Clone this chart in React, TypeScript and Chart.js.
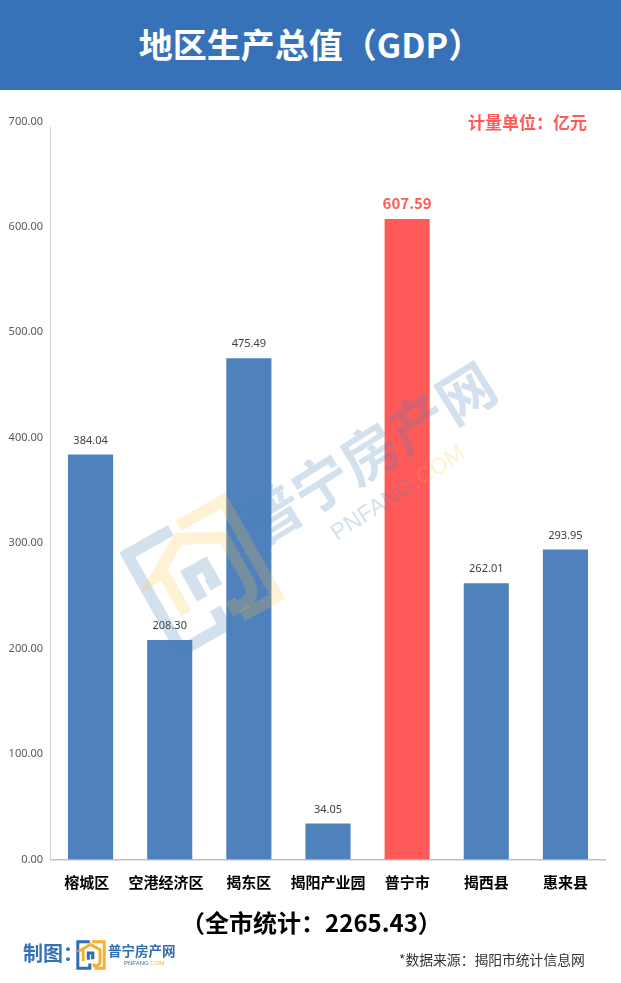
import React, { useEffect, useRef } from "react";
import { Chart, registerables } from "chart.js";

Chart.register(...registerables);

const categories = ["榕城区", "空港经济区", "揭东区", "揭阳产业园", "普宁市", "揭西县", "惠来县"];
const gdpValues = [384.04, 208.3, 475.49, 34.05, 607.59, 262.01, 293.95];
const highlightCategory = "普宁市";
const titleText = "地区生产总值（GDP）";
const unitText = "计量单位：亿元";
const totalText = "（全市统计：2265.43）";
const sourceText = "*数据来源：揭阳市统计信息网";

const BLUE = "#4f81bd";
const RED = "#ff5a5a";
const CJK = '"Noto Sans CJK SC", "Noto Sans", sans-serif';

const labelsPlugin = {
  id: "valueLabels",
  afterDraw(chart: any) {
    const { ctx } = chart;
    const yScale = chart.scales.y;
    ctx.save();
    ctx.strokeStyle = "#d0d0d0";
    ctx.lineWidth = 1;
    ctx.beginPath();
    ctx.moveTo(50.5, yScale.getPixelForValue(695));
    ctx.lineTo(50.5, yScale.getPixelForValue(0));
    ctx.stroke();
    const meta = chart.getDatasetMeta(0);
    ctx.textAlign = "center";
    ctx.textBaseline = "alphabetic";
    meta.data.forEach((bar: any, i: number) => {
      const hot = categories[i] === highlightCategory;
      ctx.fillStyle = hot ? RED : "#404040";
      ctx.font = hot ? `700 15px ${CJK}` : `11px "Noto Sans", sans-serif`;
      ctx.fillText(gdpValues[i].toFixed(2), bar.x, bar.y - (hot ? 10 : 11));
    });
    ctx.restore();
  },
};

function Logo({ stroke, blue, yellow }: { stroke: number; blue: string; yellow: string }) {
  return (
    <g fill="none" strokeWidth={stroke} strokeLinejoin="miter">
      <path d="M46 6 H6 V94 H46 V78" stroke={blue} />
      <path d="M53 6 H94 V94 H62" stroke={yellow} />
      <path d="M24 70 V33 H17 L48 15 L80 32 V72 Q80 86 66 86 H60 V78" stroke={yellow} />
      <path d="M41 66 V43 H56 V59 H50" stroke={blue} />
    </g>
  );
}

function Watermark() {
  const blue = "rgba(70,130,190,0.24)";
  const yellow = "rgba(255,190,60,0.22)";
  return (
    <svg
      width={621}
      height={983}
      style={{ position: "absolute", left: 0, top: 0, pointerEvents: "none" }}
    >
      <g transform="translate(117,552) rotate(-29.5) scale(1.25)">
        <Logo stroke={9.5} blue={blue} yellow={yellow} />
      </g>
      <text
        transform="translate(260,547) rotate(-32)"
        fontFamily={CJK}
        fontWeight={700}
        fontSize={57}
        fill={blue}
      >
        普宁房产网
      </text>
      <text
        transform="translate(337,541) rotate(-33)"
        fontFamily='"Liberation Sans", sans-serif'
        fontSize={23}
        fill={blue}
      >
        PNFANG<tspan fill={yellow}>.COM</tspan>
      </text>
    </svg>
  );
}

function pos(left: number, top: number, extra: React.CSSProperties): React.CSSProperties {
  return {
    position: "absolute",
    left,
    top,
    whiteSpace: "nowrap",
    fontFamily: CJK,
    lineHeight: 1,
    ...extra,
  };
}

export default function App() {
  const ref = useRef<HTMLCanvasElement | null>(null);

  useEffect(() => {
    document.body.style.margin = "0";
    const chart = new Chart(ref.current as HTMLCanvasElement, {
      type: "bar",
      data: {
        labels: categories,
        datasets: [
          {
            data: gdpValues,
            backgroundColor: categories.map((c) => (c === highlightCategory ? RED : BLUE)),
            barPercentage: 0.57,
            categoryPercentage: 1,
          },
        ],
      },
      plugins: [labelsPlugin],
      options: {
        responsive: false,
        animation: false,
        layout: { padding: { top: 121.5, right: 16, bottom: 0, left: 0 } },
        plugins: { legend: { display: false }, tooltip: { enabled: false } },
        scales: {
          x: {
            grid: { display: false, drawTicks: false },
            border: { display: true, color: "#bfbfbf", width: 1.5 },
            afterFit(scale: any) {
              scale.height = 123.5;
            },
            ticks: {
              autoSkip: false,
              maxRotation: 0,
              padding: 14,
              color: "#000000",
              font: { family: CJK, size: 15, weight: "bold" },
              callback: (_v: any, i: number) => (i < 2 ? categories[i] + "\u2002" : categories[i]),
            },
          },
          y: {
            min: 0,
            max: 700,
            grid: { display: false, drawTicks: false },
            border: { display: false },
            afterFit(scale: any) {
              scale.width = 51;
            },
            ticks: {
              stepSize: 100,
              padding: 8,
              color: "#595959",
              font: { family: '"Noto Sans", sans-serif', size: 11 },
              callback: (v: any) => Number(v).toFixed(2),
            },
          },
        },
      },
    } as any);
    return () => chart.destroy();
  }, []);

  return (
    <div style={{ position: "relative", width: 621, height: 983, background: "#fff", overflow: "hidden" }}>
      <div style={{ position: "absolute", left: 0, top: 0, width: 621, height: 90, background: "#3771b8" }} />
      <div
        style={pos(0, 27, {
          width: 621,
          textAlign: "center",
          color: "#fff",
          fontWeight: 700,
          fontSize: 34,
        })}
      >
        {titleText}
      </div>
      <canvas ref={ref} width={621} height={983} style={{ position: "absolute", left: 0, top: 0 }} />
      <Watermark />
      <div style={pos(468, 113, { color: RED, fontWeight: 700, fontSize: 17 })}>{unitText}</div>
      <div style={pos(1, 910, { width: 621, textAlign: "center", color: "#000", fontWeight: 700, fontSize: 24 })}>
        {totalText}
      </div>
      <div style={pos(399, 953, { color: "#333", fontSize: 13.8 })}>{sourceText}</div>
      <div style={pos(23, 943, { color: "#3771b8", fontWeight: 700, fontSize: 20 })}>制图：</div>
      <svg width={32} height={30} viewBox="0 0 100 100" style={{ position: "absolute", left: 75, top: 940 }}>
        <Logo stroke={10} blue="#2f6db5" yellow="#f5b133" />
      </svg>
      <div style={pos(108, 944, { color: "#2f6db5", fontWeight: 700, fontSize: 13.5 })}>普宁房产网</div>
      <div style={pos(124, 960, { color: "#2f6db5", fontSize: 6, fontFamily: '"Liberation Sans", sans-serif' })}>
        PNFANG<span style={{ color: "#f5b133" }}>.COM</span>
      </div>
    </div>
  );
}
